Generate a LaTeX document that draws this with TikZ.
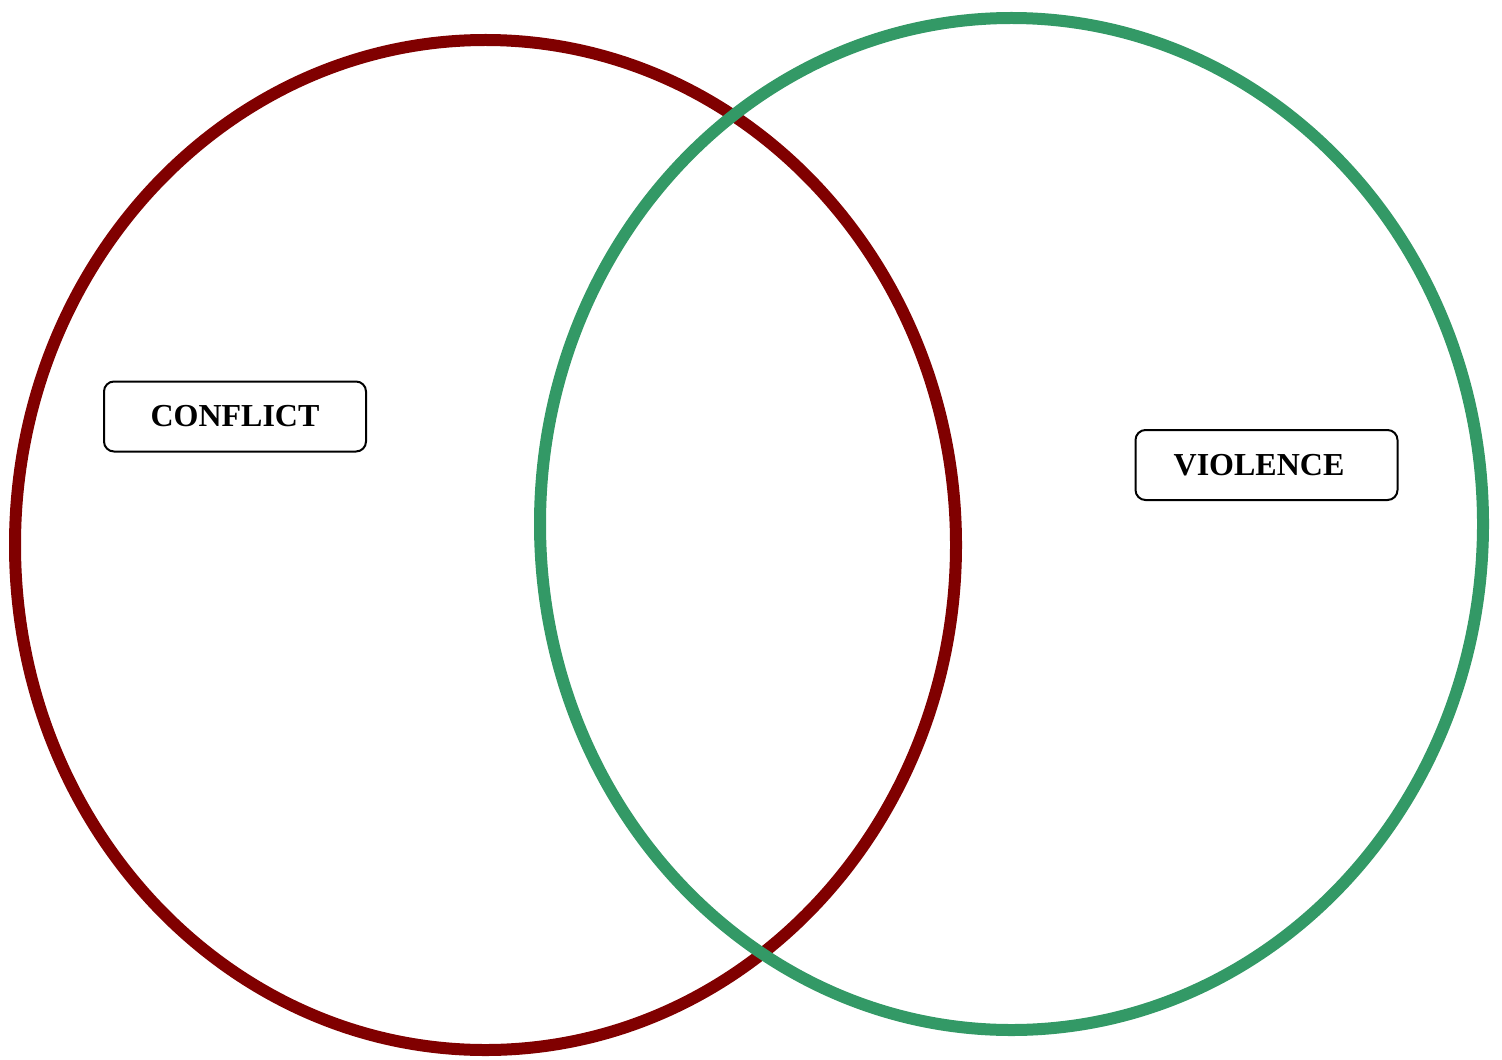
\documentclass[tikz,border=0pt]{standalone}
\usepackage{fontspec}
\setmainfont{Liberation Serif}
\usetikzlibrary{positioning}
\definecolor{cmaroon}{HTML}{800000}
\definecolor{cgreen}{HTML}{339966}
\tikzset{
  every picture/.style={line width=1pt},
  ring/.style={draw=#1, line width=6pt},
  ring/.default=cmaroon,
  box/.style={draw=black, fill=white, rounded corners=5pt, line width=1pt, minimum width=131pt, minimum height=35pt, inner sep=0pt, font=\fontsize{16}{18}\selectfont\bfseries},
}
\begin{document}
\begin{tikzpicture}[x=0.5pt, y=-0.5pt]
  \useasboundingbox (0,0) rectangle (1502,1059);
  % the two sets
  \draw[ring=cmaroon] (485.5,545) ellipse (470.5 and 505);
  \draw[ring=cgreen] (1011.5,524) ellipse (471.5 and 506);
  % labels
  \node[box] (conflict) at (235,416.5) {CONFLICT};
  \node[box] (violence) at (1266.5,465) {VIOLENCE\kern7.5pt};
\end{tikzpicture}
\end{document}
